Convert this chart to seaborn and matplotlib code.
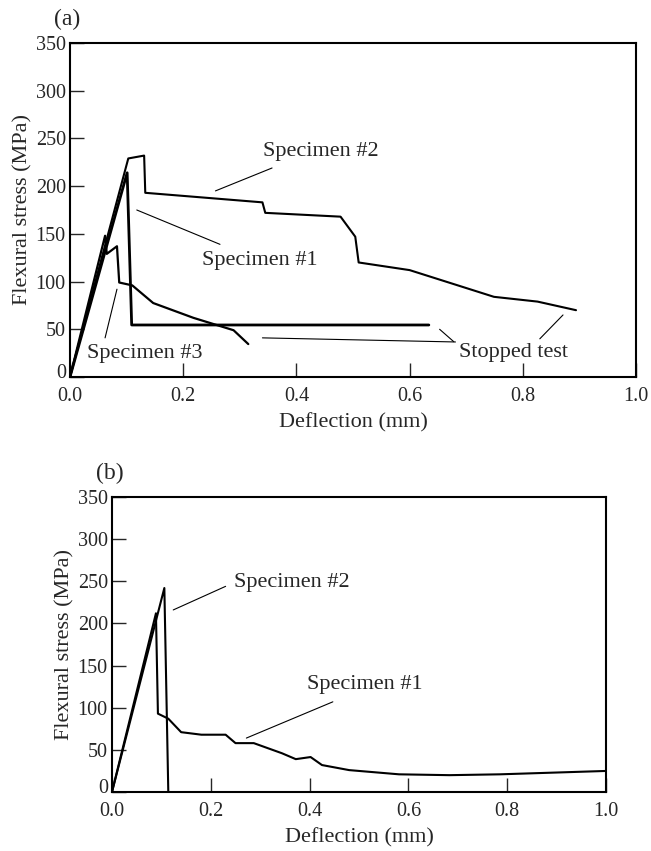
import pandas as pd
import matplotlib.pyplot as plt
import seaborn as sns
from matplotlib.transforms import ScaledTranslation

# panel (a) curves
a1_x = [0.0, 0.101, 0.109, 0.634]
a1_y = [0, 214, 54.5, 54.5]
a2_x = [0.0, 0.103, 0.131, 0.133, 0.34, 0.345, 0.478, 0.504, 0.51, 0.60, 0.749, 0.826, 0.894]
a2_y = [0, 229, 232, 193, 183, 172, 168, 147, 120, 112, 84, 79, 70]
a3_x = [0.0, 0.062, 0.065, 0.083, 0.087, 0.11, 0.147, 0.218, 0.289, 0.315]
a3_y = [0, 148, 129, 137, 99, 96, 77.5, 62, 49, 34.5]

# panel (b) curves
b1_x = [0.0, 0.089, 0.093, 0.114, 0.14, 0.181, 0.23, 0.25, 0.287, 0.344, 0.372, 0.402,
        0.425, 0.48, 0.581, 0.683, 0.785, 1.0]
b1_y = [0, 212, 93, 87, 71, 68, 68, 58, 58, 46, 39, 41.5, 32, 26, 21, 20, 21, 25]
b2_x = [0.0, 0.106, 0.114]
b2_y = [0, 242, 0]

y_ticks = [0, 50, 100, 150, 200, 250, 300, 350]
x_ticks = [0.0, 0.2, 0.4, 0.6, 0.8, 1.0]

sns.set_style("ticks")
plt.rcParams['font.family'] = ['Liberation Serif', 'DejaVu Serif']

fig = plt.figure(figsize=(6.51, 8.51), dpi=100)
ax_a = fig.add_axes([0.1075, 0.557, 0.8695, 0.3925])
ax_b = fig.add_axes([0.172, 0.0693, 0.759, 0.3467])


def curva(ax, xs, ys, lw=1.5):
    df = pd.DataFrame({'x': xs, 'y': ys})
    sns.lineplot(data=df, x='x', y='y', ax=ax, sort=False, estimator=None,
                 color='black', lw=lw)


def ejes(ax):
    ax.set_xlim(0, 1.0)
    ax.set_ylim(0, 350)
    ax.set_xticks(x_ticks)
    ax.set_yticks(y_ticks)
    ax.set_xticklabels([f"{v:.1f}" for v in x_ticks])
    ax.tick_params(direction='in', length=10, width=1, labelsize=14.5)
    ax.tick_params(axis='x', pad=7)
    ax.tick_params(axis='y', pad=3)
    for s in ax.spines.values():
        s.set_linewidth(1.5)
        s.set_color('black')
    ax.set_xlabel('Deflection (mm)', fontsize=16, labelpad=5)
    ax.set_ylabel('Flexural stress (MPa)', fontsize=16, labelpad=2)
    # el "0" del eje y queda pegado al "0.0", lo subimos un poco
    lbl0 = ax.get_yticklabels()[0]
    lbl0.set_transform(lbl0.get_transform() + ScaledTranslation(0, 4 / 72, fig.dpi_scale_trans))


def nota(ax, texto, tx, ty, x0, y0, x1, y1):
    ax.plot([x0, x1], [y0, y1], color='black', lw=0.8)
    ax.text(tx, ty, texto, fontsize=16, ha='center', va='center')


# panel (a)
curva(ax_a, a1_x, a1_y, lw=2.0)
curva(ax_a, a2_x, a2_y)
curva(ax_a, a3_x, a3_y, lw=1.6)
ejes(ax_a)
nota(ax_a, 'Specimen #2', 0.444, 236, 0.257, 195, 0.357, 219)
nota(ax_a, 'Specimen #1', 0.335, 122, 0.118, 175, 0.265, 139)
nota(ax_a, 'Specimen #3', 0.132, 25, 0.062, 41, 0.083, 92)
nota(ax_a, 'Stopped test', 0.784, 26, 0.34, 41, 0.681, 36.7)
ax_a.plot([0.653, 0.678], [50, 37], color='black', lw=0.8)
ax_a.plot([0.83, 0.871], [40, 65], color='black', lw=0.8)
fig.text(67 / 651, 1 - 19 / 851, '(a)', fontsize=17, ha='center', va='center')

# panel (b)
curva(ax_b, b1_x, b1_y)
curva(ax_b, b2_x, b2_y)
ejes(ax_b)
nota(ax_b, 'Specimen #2', 0.364, 248, 0.124, 216, 0.23, 244)
nota(ax_b, 'Specimen #1', 0.512, 127, 0.272, 64, 0.447, 107)
fig.text(110 / 651, 1 - 473 / 851, '(b)', fontsize=17, ha='center', va='center')

fig.savefig('out.png', dpi=100)
plt.close(fig)
